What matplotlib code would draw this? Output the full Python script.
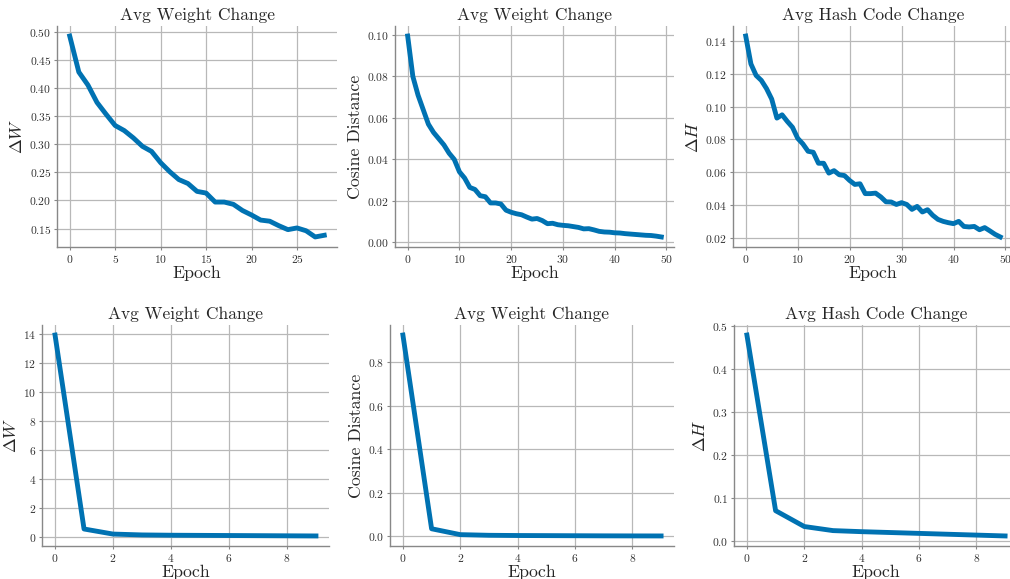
import numpy as np
import matplotlib
matplotlib.use('Agg')
import matplotlib.pyplot as plt

# --- данные ---
w_change_a = [0.492, 0.428, 0.405, 0.374, 0.353, 0.333, 0.324, 0.311, 0.296, 0.287,
              0.267, 0.251, 0.237, 0.230, 0.216, 0.213, 0.197, 0.197, 0.193, 0.182,
              0.174, 0.165, 0.163, 0.155, 0.148, 0.151, 0.146, 0.135, 0.138]

cos_dist_a = [0.0995, 0.080, 0.071, 0.064, 0.057, 0.053, 0.050, 0.047, 0.043, 0.040,
              0.034, 0.031, 0.0265, 0.0255, 0.0225, 0.022, 0.019, 0.019, 0.0185, 0.0155,
              0.0145, 0.0138, 0.0133, 0.0122, 0.0112, 0.0115, 0.0105, 0.0090, 0.0092, 0.0085,
              0.0082, 0.0080, 0.0076, 0.0072, 0.0065, 0.0066, 0.0060, 0.0053, 0.0050, 0.0049,
              0.0046, 0.0045, 0.0042, 0.0040, 0.0038, 0.0036, 0.0034, 0.0033, 0.0030, 0.0026]

hash_change_a = [0.143, 0.126, 0.119, 0.116, 0.111, 0.1046, 0.093, 0.095, 0.091, 0.0874,
                 0.0807, 0.0773, 0.0728, 0.0722, 0.0655, 0.0655, 0.0595, 0.061, 0.0585, 0.058,
                 0.055, 0.0526, 0.053, 0.047, 0.047, 0.0473, 0.045, 0.042, 0.0419, 0.0404,
                 0.0415, 0.0404, 0.0374, 0.0392, 0.0358, 0.0372, 0.0338, 0.0313, 0.0301, 0.0293,
                 0.0287, 0.0301, 0.027, 0.0267, 0.027, 0.025, 0.0263, 0.0243, 0.0222, 0.0206]

w_change_b = [13.9, 0.53, 0.18, 0.12, 0.10, 0.09, 0.08, 0.07, 0.06, 0.05]
cos_dist_b = [0.924, 0.035, 0.008, 0.005, 0.004, 0.0035, 0.003, 0.0025, 0.0022, 0.002]
hash_change_b = [0.48, 0.070, 0.033, 0.0235, 0.021, 0.019, 0.017, 0.015, 0.013, 0.011]

titles = ['Avg Weight Change', 'Avg Weight Change', 'Avg Hash Code Change']
ylabels = [r'$\Delta W$', 'Cosine Distance', r'$\Delta H$']
series = [w_change_a, cos_dist_a, hash_change_a, w_change_b, cos_dist_b, hash_change_b]

plt.rcParams['font.family'] = ['cmr10', 'DejaVu Serif']
plt.rcParams['mathtext.fontset'] = 'cm'
plt.rcParams['axes.formatter.use_mathtext'] = True
plt.rcParams['axes.unicode_minus'] = False

W, H = 1010, 579
fig = plt.figure(figsize=(W / 100, H / 100), dpi=100)

# расположение осей в пикселях: (left, right, top, bottom)
boxes = [(57, 337, 26, 247), (395, 674, 26, 247), (733, 1013, 26, 247),
         (42, 329, 325, 546), (390, 674, 325, 546), (734, 1018, 325, 546)]

for i, (vals, (l, r, t, b)) in enumerate(zip(series, boxes)):
    ax = fig.add_axes([l / W, 1 - b / H, (r - l) / W, (b - t) / H])
    ax.plot(np.arange(len(vals)), vals, color='#0072B2', linewidth=3.5)
    ax.set_title(titles[i % 3], fontsize=12.5, color='#262626', pad=4)
    ax.set_xlabel('Epoch', fontsize=12.8, color='#262626', labelpad=1)
    ax.set_ylabel(ylabels[i % 3], fontsize=12.8, color='#262626', labelpad=3)
    ax.grid(True, color='#b8b8b8', linewidth=0.9)
    ax.set_axisbelow(True)
    for side in ['top', 'right']:
        ax.spines[side].set_visible(False)
    for side in ['left', 'bottom']:
        ax.spines[side].set_color('#888888')
        ax.spines[side].set_linewidth(1.0)
    ax.tick_params(length=2, width=0.8, color='#888888', labelsize=8.3,
                   labelcolor='#333333', pad=2)

fig.savefig('out.png', dpi=100)
